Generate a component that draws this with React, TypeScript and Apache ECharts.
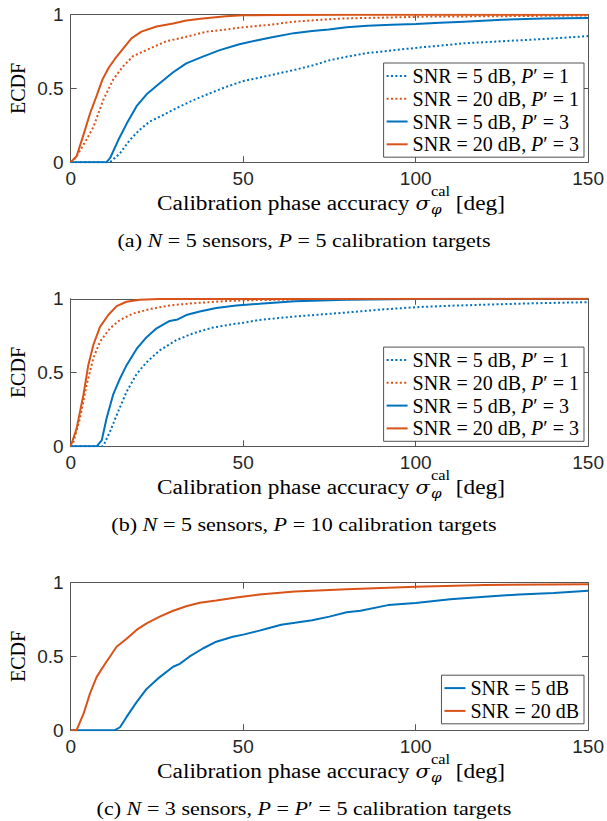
import React, { useEffect, useRef } from 'react';
import * as echarts from 'echarts';

// ---------- data (x = calibration phase accuracy [deg], y = ECDF) ----------
const a_snr5_p1: number[][] = [[0,0],[11.4,0],[14.3,0.06],[17.1,0.15],[20,0.22],[22.9,0.275],[26.8,0.32],[30.6,0.366],[35.5,0.42],[40.3,0.467],[45,0.51],[50,0.55],[58,0.59],[64.7,0.625],[70,0.655],[74.8,0.69],[80,0.715],[86,0.74],[92,0.755],[100,0.775],[107,0.79],[114,0.806],[125,0.82],[137,0.835],[150,0.855]];
const a_snr20_p1: number[][] = [[0,0],[1.5,0.03],[2.7,0.08],[4.5,0.15],[6.6,0.24],[8,0.33],[9.4,0.42],[12.3,0.56],[15.2,0.65],[18.1,0.72],[22.9,0.77],[27.7,0.82],[33.5,0.85],[39.3,0.885],[45,0.9],[50,0.915],[57,0.93],[65,0.953],[72,0.965],[80,0.975],[90,0.98],[103,0.987],[125,0.99],[150,0.995]];
const a_snr5_p3: number[][] = [[0,0],[10.4,0],[11.4,0.027],[13.8,0.15],[16.2,0.26],[19.1,0.38],[22,0.46],[25.8,0.535],[29.7,0.61],[33.5,0.67],[38.3,0.716],[43.2,0.76],[48.9,0.8],[53.8,0.825],[58,0.845],[64.7,0.875],[70,0.89],[74.8,0.9],[80,0.915],[86,0.925],[93,0.932],[100,0.937],[107,0.945],[114,0.953],[125,0.966],[137,0.974],[150,0.978]];
const a_snr20_p3: number[][] = [[0,0],[1.7,0.04],[3.5,0.17],[5.6,0.33],[7.5,0.45],[9.2,0.56],[11,0.64],[12.8,0.7],[15.2,0.77],[17.6,0.84],[20.5,0.885],[24.9,0.92],[29.7,0.94],[33.5,0.96],[38.3,0.975],[45,0.99],[50,0.996],[60,0.998],[80,1],[150,1]];

const b_snr5_p1: number[][] = [[0,0],[9.4,0],[11.4,0.1],[13.3,0.21],[16.2,0.37],[19.1,0.49],[22,0.57],[25.8,0.65],[30.6,0.72],[35.5,0.766],[41.2,0.805],[47,0.828],[50,0.837],[54.7,0.857],[65,0.88],[80,0.907],[90,0.927],[100,0.943],[110,0.953],[120,0.96],[135,0.97],[150,0.977]];
const b_snr20_p1: number[][] = [[0,0],[0.8,0.03],[2.7,0.19],[4.6,0.415],[6.6,0.6],[8.5,0.71],[11.4,0.8],[14.3,0.857],[18.1,0.9],[22.9,0.93],[28.7,0.955],[35.5,0.97],[43.2,0.982],[50,0.99],[65,0.995],[85,0.998],[150,1]];
const b_snr5_p3: number[][] = [[0,0],[7.5,0],[9,0.04],[10.4,0.19],[12.3,0.35],[14.3,0.46],[16.2,0.55],[19.1,0.66],[22,0.74],[24.9,0.8],[28.7,0.85],[31,0.86],[33.5,0.89],[37.4,0.914],[42.2,0.937],[48,0.955],[54.7,0.966],[65,0.984],[80,0.993],[100,0.998],[120,1],[150,1]];
const b_snr20_p3: number[][] = [[0,0],[1.7,0.12],[3.7,0.35],[5.1,0.55],[6.6,0.69],[8.5,0.81],[10.9,0.89],[13.3,0.95],[16.2,0.98],[20,0.993],[25.8,0.999],[150,1]];

const c_snr5: number[][] = [[0,0],[12.8,0],[14.3,0.02],[16.2,0.09],[19.1,0.19],[22,0.28],[25.8,0.36],[29.7,0.43],[31.6,0.45],[34.5,0.5],[38.3,0.554],[42.2,0.6],[47,0.633],[50,0.648],[54.7,0.675],[57,0.69],[61,0.715],[65,0.728],[70,0.745],[75,0.77],[80,0.8],[84,0.81],[92,0.848],[100,0.862],[110,0.887],[120,0.905],[130,0.92],[140,0.93],[150,0.946]];
const c_snr20: number[][] = [[0,0],[1.7,0],[3.7,0.11],[5.6,0.25],[7.5,0.36],[9.4,0.43],[11.4,0.5],[13.3,0.566],[16.2,0.62],[19.1,0.68],[22,0.724],[25.8,0.77],[29.7,0.81],[33.5,0.84],[37.4,0.864],[42.2,0.88],[48,0.9],[54.7,0.92],[65,0.94],[80,0.955],[100,0.973],[120,0.984],[150,0.99]];

const legendLabels4: string[] = ['SNR = 5 dB, {i|P}′ = 1', 'SNR = 20 dB, {i|P}′ = 1', 'SNR = 5 dB, {i|P}′ = 3', 'SNR = 20 dB, {i|P}′ = 3'];
const legendLabels2: string[] = ['SNR = 5 dB', 'SNR = 20 dB'];
const captions: string[] = [
  '(a) {i|N} = 5 sensors, {i|P} = 5 calibration targets',
  '(b) {i|N} = 5 sensors, {i|P} = 10 calibration targets',
  '(c) {i|N} = 3 sensors, {i|P} = {i|P}′ = 5 calibration targets',
];
const xMin = 0, xMax = 150, xStep = 50;
const yMin = 0, yMax = 1, yStep = 0.5;

// ---------- styles / layout ----------
const BLUE = '#0072BD';
const ORANGE = '#D95319';
const AXIS = '#555555';
const TEXT = '#262626';
const SERIF = 'Liberation Serif';
const GREEK = 'DejaVu Serif';
const SANS = 'Liberation Sans';
const GRID_LEFT = 70.7, GRID_W = 519, GRID_H = 147.5;
const PANEL_TOPS = [14.7, 298.8, 582.7];
const BLOCK_TOPS = [0, 284, 568];
const BLOCK_HEIGHTS = [284, 284, 253];
const DOT = [2, 2.4];
const TFS = 20, SFS = 14, CFS = 19;

type S = { name: string; data: number[][]; color: string; dotted: boolean; label: string };
const PANELS: S[][] = [
  [
    { name: 'a1', data: a_snr5_p1, color: BLUE, dotted: true, label: legendLabels4[0] },
    { name: 'a2', data: a_snr20_p1, color: ORANGE, dotted: true, label: legendLabels4[1] },
    { name: 'a3', data: a_snr5_p3, color: BLUE, dotted: false, label: legendLabels4[2] },
    { name: 'a4', data: a_snr20_p3, color: ORANGE, dotted: false, label: legendLabels4[3] },
  ],
  [
    { name: 'b1', data: b_snr5_p1, color: BLUE, dotted: true, label: legendLabels4[0] },
    { name: 'b2', data: b_snr20_p1, color: ORANGE, dotted: true, label: legendLabels4[1] },
    { name: 'b3', data: b_snr5_p3, color: BLUE, dotted: false, label: legendLabels4[2] },
    { name: 'b4', data: b_snr20_p3, color: ORANGE, dotted: false, label: legendLabels4[3] },
  ],
  [
    { name: 'c1', data: c_snr5, color: BLUE, dotted: false, label: legendLabels2[0] },
    { name: 'c2', data: c_snr20, color: ORANGE, dotted: false, label: legendLabels2[1] },
  ],
];

let measureCtx: CanvasRenderingContext2D | null = null;
function measure(text: string, font: string): number {
  if (!measureCtx) measureCtx = document.createElement('canvas').getContext('2d');
  measureCtx!.font = font;
  return measureCtx!.measureText(text).width;
}
function measureRich(str: string, fs: number): number {
  let w = 0;
  const re = /\{i\|([^}]*)\}|([^{]+)/g;
  let m;
  while ((m = re.exec(str))) {
    if (m[1] !== undefined) w += measure(m[1], `italic ${fs}px "${SERIF}"`);
    else w += measure(m[2], `${fs}px "${SERIF}"`);
  }
  return w;
}

function Panel({ index }: { index: number }) {
  const ref = useRef<HTMLDivElement>(null);
  useEffect(() => {
    if (!ref.current) return;
    const chart = echarts.init(ref.current, null, { renderer: 'svg' });
    const top = PANEL_TOPS[index] - BLOCK_TOPS[index];
    const bottom = top + GRID_H;
    const list = PANELS[index];
    const labelMap: Record<string, string> = {};
    list.forEach((s) => { labelMap[s.name] = s.label; });

    const axisCommon = (show: boolean) => ({
      axisLine: { show: true, onZero: false, lineStyle: { color: AXIS, width: 1 } },
      axisTick: { show: true, inside: true, length: 6, lineStyle: { color: AXIS, width: 1 } },
      splitLine: { show: false },
      axisLabel: { show, color: TEXT, fontFamily: SANS, fontSize: 19, margin: 7 },
    });

    const w1 = measure('Calibration phase accuracy ', `${TFS}px "${SERIF}"`);
    const wSig = measure('σ', `italic ${TFS - 2}px "${GREEK}"`);
    const wCal = measure('cal', `${SFS}px "${SERIF}"`);
    const wPhi = measure('φ', `italic ${SFS - 1}px "${GREEK}"`);
    const wSp = measure(' ', `${TFS}px "${SERIF}"`);
    const wDeg = measure('[deg]', `${TFS}px "${SERIF}"`);
    const titleW = w1 + wSig + 1 + Math.max(wCal, wPhi) + wSp + wDeg;
    const titleTarget = 348;
    const titleScale = titleTarget / titleW;
    const capScale = 373 / measureRich(captions[0], CFS);
    const xs = w1 + wSig + 1;

    const tStyle = (t: string, fs: number, italic: boolean, family: string = SERIF) => ({
      text: t, fontFamily: family, fontSize: fs, fontStyle: italic ? 'italic' : 'normal', fill: '#000',
      align: 'left', verticalAlign: 'middle', textAlign: 'left', textVerticalAlign: 'middle',
    });

    const four = list.length === 4;
    chart.setOption({
      animation: false,
      grid: [{ left: GRID_LEFT, top, width: GRID_W, height: GRID_H }],
      xAxis: [
        { type: 'value', min: xMin, max: xMax, interval: xStep, position: 'bottom', ...axisCommon(true) },
        { type: 'value', min: xMin, max: xMax, interval: xStep, position: 'top', ...axisCommon(false) },
      ],
      yAxis: [
        { type: 'value', min: yMin, max: yMax, interval: yStep, position: 'left', ...axisCommon(true) },
        { type: 'value', min: yMin, max: yMax, interval: yStep, position: 'right', ...axisCommon(false) },
      ],
      series: list.map((s) => ({
        type: 'line', name: s.name, xAxisIndex: 0, yAxisIndex: 0,
        data: s.data, showSymbol: false, symbol: 'none', smooth: false,
        lineStyle: { color: s.color, width: 2, type: s.dotted ? DOT : 'solid' },
        itemStyle: { color: s.color },
        z: 3,
      })),
      legend: {
        data: list.map((s) => s.name),
        orient: 'vertical', right: 607 - 584, top: four ? top + 48.3 : top + 92.5,
        backgroundColor: '#fff', borderColor: '#262626', borderWidth: 0.8, borderRadius: 0,
        padding: [1.5, 5, 1.5, 2], itemGap: 0, itemWidth: 21, itemHeight: 14,
        selectedMode: false,
        itemStyle: { color: 'rgba(0,0,0,0)', borderWidth: 0, borderColor: 'rgba(0,0,0,0)' },
        formatter: (n: string) => labelMap[n],
        textStyle: {
          fontFamily: SERIF, fontSize: 20, color: '#000', lineHeight: 22.8,
          rich: { i: { fontFamily: SERIF, fontSize: 20, fontStyle: 'italic', color: '#000', lineHeight: 22.8 } },
        },
      },
      graphic: { elements: [
        {
          type: 'text', x: 17.5, y: top + GRID_H / 2, rotation: Math.PI / 2,
          style: { text: 'ECDF', fontFamily: SERIF, fontSize: 20, fill: '#000', align: 'center', verticalAlign: 'middle', textAlign: 'center', textVerticalAlign: 'middle' },
        },
        {
          type: 'group', x: 331 - titleTarget / 2, y: bottom + 41.2, scaleX: titleScale,
          children: [
            { type: 'text', x: 0, y: 0, style: tStyle('Calibration phase accuracy ', TFS, false) },
            { type: 'text', x: w1, y: 1, style: tStyle('σ', TFS - 2, true, GREEK) },
            { type: 'text', x: xs, y: -12.5, style: tStyle('cal', SFS, false) },
            { type: 'text', x: xs, y: 5.5, style: tStyle('φ', SFS - 1, true, GREEK) },
            { type: 'text', x: xs + Math.max(wCal, wPhi) + wSp, y: 0, style: tStyle('[deg]', TFS, false) },
          ],
        },
        {
          type: 'text', x: 304, y: bottom + 78.7, scaleX: capScale,
          style: {
            text: captions[index], fontFamily: SERIF, fontSize: CFS, fill: '#000',
            align: 'center', verticalAlign: 'middle', textAlign: 'center', textVerticalAlign: 'middle',
            rich: { i: { fontFamily: SERIF, fontSize: CFS, fontStyle: 'italic', fill: '#000' } },
          },
        },
      ] },
    });
    return () => chart.dispose();
  }, [index]);
  return (
    <div
      ref={ref}
      style={{ position: 'absolute', left: 0, top: BLOCK_TOPS[index], width: 607, height: BLOCK_HEIGHTS[index], background: '#fff' }}
    />
  );
}

export default function App() {
  return (
    <div style={{ position: 'absolute', left: 0, top: 0, width: 607, height: 821, background: '#fff' }}>
      <Panel index={0} />
      <Panel index={1} />
      <Panel index={2} />
    </div>
  );
}
